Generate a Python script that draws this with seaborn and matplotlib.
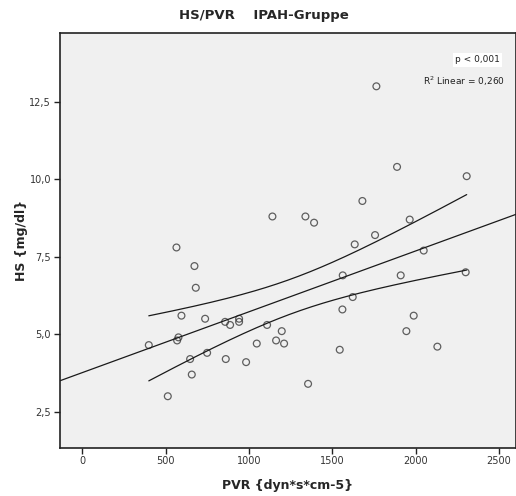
import numpy as np
import pandas as pd
import matplotlib
matplotlib.use("Agg")
import matplotlib.pyplot as plt
import matplotlib.ticker as mticker
import seaborn as sns

# PVR (dyn*s*cm-5) and HS (mg/dl) for the IPAH group
pvr = [398, 512, 564, 568, 576, 594, 646, 656, 672, 680, 736, 748, 856, 860,
       886, 940, 940, 982, 1046, 1108, 1140, 1162, 1196, 1210, 1338, 1354,
       1390, 1544, 1560, 1562, 1622, 1634, 1680, 1756, 1764, 1888, 1910,
       1944, 1964, 1988, 2048, 2130, 2300, 2306]
hs = [4.65, 3.0, 7.8, 4.8, 4.9, 5.6, 4.2, 3.7, 7.2, 6.5, 5.5, 4.4, 5.4, 4.2,
      5.3, 5.5, 5.4, 4.1, 4.7, 5.3, 8.8, 4.8, 5.1, 4.7, 8.8, 3.4,
      8.6, 4.5, 5.8, 6.9, 6.2, 7.9, 9.3, 8.2, 13.0, 10.4, 6.9,
      5.1, 8.7, 5.6, 7.7, 4.6, 7.0, 10.1]

x_ticks = [0, 500, 1000, 1500, 2000, 2500]
y_ticks = [2.5, 5.0, 7.5, 10.0, 12.5]

df = pd.DataFrame({"PVR": pvr, "HS": hs})

sns.set_theme(style="white")
plt.rcParams["font.family"] = ["DejaVu Sans"]

fig = plt.figure(figsize=(5.16, 4.96), dpi=100)
ax = fig.add_axes([59.5 / 516, 48 / 496, (516 - 59.5) / 516, (448 - 33) / 496])
ax.set_facecolor("#f0f0f0")
ax.set_xlim(-138, 2602)
ax.set_ylim(1.33, 14.72)

# OLS fit with the 95% confidence band of the mean
x = df["PVR"].to_numpy(float)
y = df["HS"].to_numpy(float)
n = len(x)
b1, b0 = np.polyfit(x, y, 1)
resid = y - (b0 + b1 * x)
s = np.sqrt(np.sum(resid ** 2) / (n - 2))
sxx = np.sum((x - x.mean()) ** 2)
t_crit = 2.018  # t(0.975, df=42)
xg = np.linspace(x.min(), x.max(), 200)
yg = b0 + b1 * xg
half = t_crit * s * np.sqrt(1 / n + (xg - x.mean()) ** 2 / sxx)
r2 = 1 - np.sum(resid ** 2) / np.sum((y - y.mean()) ** 2)

sns.regplot(data=df, x="PVR", y="HS", ax=ax, ci=None, truncate=False,
            scatter_kws=dict(s=24, facecolors="none", edgecolors="#3a3a3a",
                             linewidths=0.9),
            line_kws=dict(color="#1a1a1a", lw=0.9))
sns.lineplot(x=xg, y=yg + half, ax=ax, color="#1a1a1a", lw=0.9)
sns.lineplot(x=xg, y=yg - half, ax=ax, color="#1a1a1a", lw=0.9)

ax.set_xticks(x_ticks)
ax.set_yticks(y_ticks)
ax.yaxis.set_major_formatter(mticker.FuncFormatter(lambda v, p: f"{v:.1f}".replace(".", ",")))
ax.xaxis.set_major_formatter(mticker.FuncFormatter(lambda v, p: f"{v:.0f}"))
ax.tick_params(axis="both", which="major", direction="out", length=4, width=1,
               color="#222222", labelsize=7, labelcolor="#333333", pad=2,
               left=True, bottom=True)
for side in ["left", "bottom", "top", "right"]:
    ax.spines[side].set_visible(True)
    ax.spines[side].set_color("#222222")
    ax.spines[side].set_linewidth(1.2)

ax.set_xlabel("PVR {dyn*s*cm-5}", fontsize=9, fontweight="bold", labelpad=9)
ax.set_ylabel("HS {mg/dl}", fontsize=9, fontweight="bold", labelpad=1)
fig.text(264 / 516, 1 - 16 / 496, "HS/PVR    IPAH-Gruppe", ha="center", va="center",
         fontsize=9.5, fontweight="bold")

ax.text(0.965, 0.935, "p < 0,001", transform=ax.transAxes, ha="right", va="center",
        fontsize=6.5, color="#222222",
        bbox=dict(boxstyle="square,pad=0.25", facecolor="white", edgecolor="none"))
ax.text(0.975, 0.884, f"R$^2$ Linear = {r2:.3f}".replace(".", ","), transform=ax.transAxes,
        ha="right", va="center", fontsize=6.5, color="#222222")

fig.savefig("out.png", dpi=100)
